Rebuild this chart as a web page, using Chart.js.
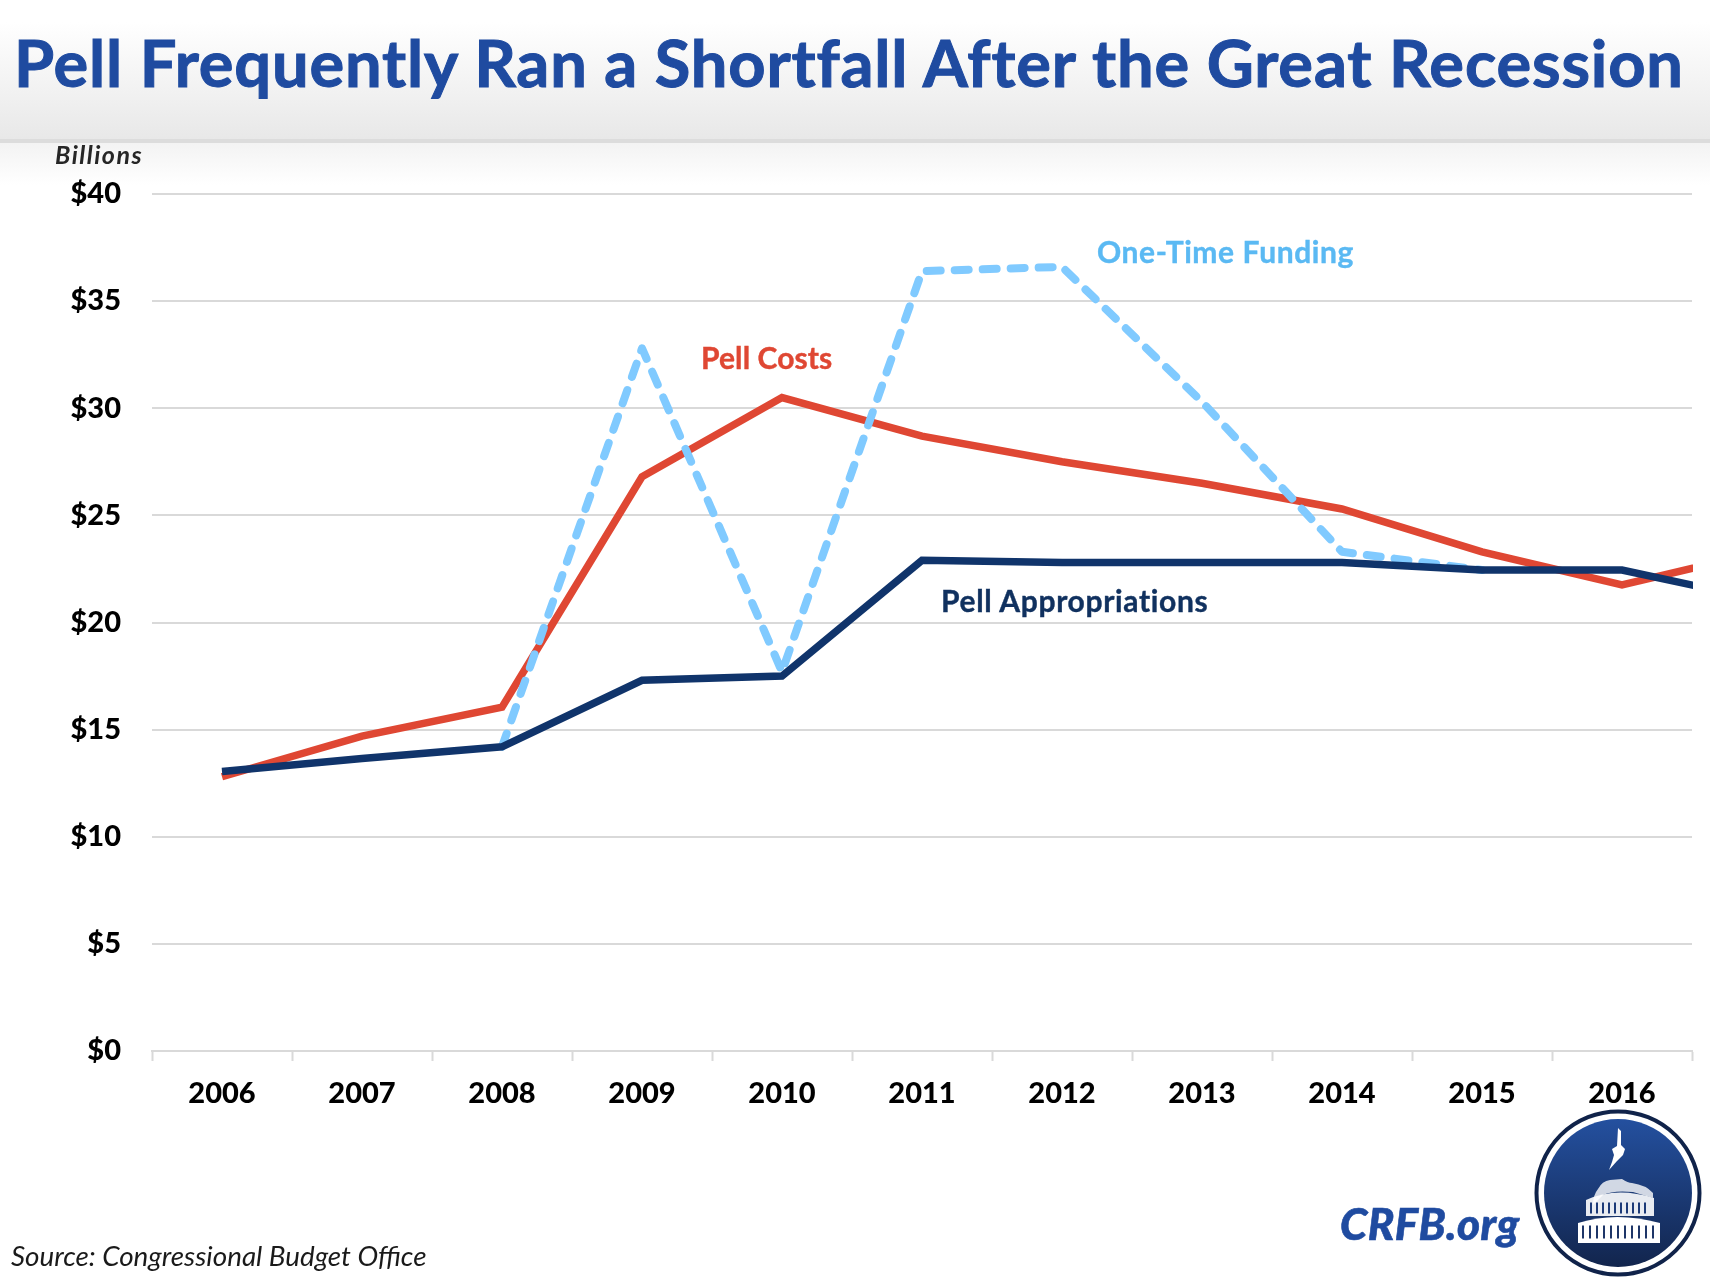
<!DOCTYPE html>
<html>
<head>
<meta charset="utf-8">
<title>Pell Frequently Ran a Shortfall After the Great Recession</title>
<script src="https://cdn.jsdelivr.net/npm/chart.js@4"></script>
<style>
  html, body { margin: 0; padding: 0; background: #fff; }
  #page { position: relative; width: 1710px; height: 1282px; overflow: hidden; font-family: Lato, sans-serif; }
  #header { position: absolute; left: 0; top: 0; width: 1710px; height: 190px;
    background: linear-gradient(to bottom, #fff 0, #fff 22px, #e8e8e8 139px, #dcdcdc 139px, #dcdcdc 143px, #f3f3f3 143px, #fff 185px); }
  canvas { position: absolute; left: 0; top: 0; }
  .txt { position: absolute; white-space: nowrap; line-height: 1; transform-origin: left center; }
  #title { left: 14px; top: 30px; font-size: 65px; font-weight: 700; color: #1f4ba0; letter-spacing: 0.83px; -webkit-text-stroke: 1px #1f4ba0; }
  #billions { left: 55px; top: 142px; font-size: 25px; font-weight: 700; font-style: italic; color: #262626; letter-spacing: 1.5px; }
  #source { left: 11px; top: 1242px; font-size: 27.8px; font-style: italic; color: #1a1a1a; }
  #crfb { left: 1340px; top: 1201px; font-size: 44px; font-weight: 900; font-style: italic; color: #1f4ba0; letter-spacing: 0.4px; -webkit-text-stroke: 0.6px #1f4ba0; }
  .lbl { font-size: 30px; font-weight: 700; -webkit-text-stroke: 0.4px currentColor; }
  #lblCosts { left: 701px; top: 342px; color: #df4733; letter-spacing: 0.1px; }
  #lblOneTime { left: 1097px; top: 236px; color: #5ab9f3; letter-spacing: 0.6px; }
  #lblApprop { left: 941px; top: 585px; color: #10315f; letter-spacing: 0.65px; }
  #logo { position: absolute; left: 0; top: 0; }
</style>
</head>
<body>
<div id="page">
  <div id="header"></div>
  <canvas id="pellChart" width="1710" height="1282"></canvas>
  <div class="txt" id="title">Pell Frequently Ran a Shortfall After the Great Recession</div>
  <div class="txt" id="billions">Billions</div>
  <div class="txt lbl" id="lblCosts">Pell Costs</div>
  <div class="txt lbl" id="lblOneTime">One-Time Funding</div>
  <div class="txt lbl" id="lblApprop">Pell Appropriations</div>
  <div class="txt" id="source">Source: Congressional Budget Office</div>
  <div class="txt" id="crfb">CRFB.org</div>
  <svg id="logo" width="1710" height="1282" viewBox="0 0 1710 1282">
    <defs>
      <linearGradient id="seal" x1="0" y1="0" x2="0" y2="1">
        <stop offset="0" stop-color="#24509f"/>
        <stop offset="1" stop-color="#12254d"/>
      </linearGradient>
    </defs>
    <circle cx="1618" cy="1193" r="81.5" fill="#fff" stroke="#10234a" stroke-width="4"/>
    <circle cx="1618" cy="1193" r="74" fill="url(#seal)"/>
    <!-- statue -->
    <path d="M1618 1128 l3 3 l0 14 l4 4 l-2 6 l-6 6 l-8 9 l3 -8 l2 -7 l-2 -6 l5 -3 z" fill="#fff"/>
    <!-- dome -->
    <path d="M1593 1205 q0 -10 5 -16 q4 -8 12 -9 l12 -1 q6 4 10 4 q14 2 21 10 l0 5 l-20 -6 q-20 -2 -30 3 z" fill="#fff" opacity="0.8"/>
    <path d="M1586 1216 v-16 q30 -14 68 -2 l0 18 z" fill="#fff" opacity="0.9"/>
    <path d="M1590 1208 h60" stroke="#1c3a78" stroke-width="11" stroke-dasharray="2 4"/>
    <!-- base -->
    <path d="M1578 1243 v-20 q38 -12 82 0 v20 z" fill="#fff"/>
    <path d="M1582 1232 h74" stroke="#1e3668" stroke-width="13" stroke-dasharray="2 5"/>
  </svg>
</div>
<script>
const years = ["2006", "2007", "2008", "2009", "2010", "2011", "2012", "2013", "2014", "2015", "2016", "2017"];
const pellAppropriations = [13.05, 13.65, 14.2, 17.3, 17.5, 22.9, 22.8, 22.8, 22.8, 22.45, 22.45, 21.05];
const pellCosts = [12.8, 14.7, 16.05, 26.8, 30.5, 28.7, 27.5, 26.5, 25.3, 23.3, 21.75, 23.3];
const oneTimeFunding = [null, null, 14.2, 32.8, 17.7, 36.4, 36.6, 30.3, 23.3, 22.45, null, null];

const gridColor = "#d9d9d9";
const tickFont = { family: "Lato", size: 29, weight: "900" };

const ctx = document.getElementById("pellChart").getContext("2d");

new Chart(ctx, {
  type: "line",
  data: {
    labels: years,
    datasets: [
      // first dataset is painted last, so it sits on top
      {
        label: "Pell Appropriations",
        data: pellAppropriations,
        borderColor: "#10346b",
        borderWidth: 7.5,
        pointRadius: 0,
        tension: 0,
        clip: 1,
      },
      {
        label: "One-Time Funding",
        data: oneTimeFunding,
        borderColor: "#80caff",
        borderWidth: 8,
        borderDash: [14, 14],
        borderCapStyle: "round",
        borderJoinStyle: "round",
        pointRadius: 0,
        tension: 0,
        clip: 1,
      },
      {
        label: "Pell Costs",
        data: pellCosts,
        borderColor: "#df4733",
        borderWidth: 7.5,
        pointRadius: 0,
        tension: 0,
        clip: 1,
      },
    ],
  },
  options: {
    responsive: false,
    devicePixelRatio: 1,
    animation: false,
    layout: { padding: { left: 0, right: 18, top: 194, bottom: 0 } },
    plugins: { legend: { display: false }, title: { display: false }, tooltip: { enabled: false } },
    scales: {
      x: {
        type: "category",
        offset: true,
        grid: {
          display: true,
          offset: true,
          drawOnChartArea: false,
          drawTicks: true,
          tickLength: 10,
          tickWidth: 2,
          tickColor: gridColor,
        },
        border: { display: true, color: gridColor, width: 2 },
        ticks: {
          color: "#000",
          font: tickFont,
          padding: 15,
          maxRotation: 0,
          autoSkip: false,
        },
        // the 2017 point stays in the data so the lines run off the right edge
        afterDataLimits: function (scale) {
          scale.max = years.indexOf("2016");
        },
        afterFit: function (scale) {
          scale.height = 231;
        },
      },
      y: {
        min: 0,
        max: 40,
        grid: { color: gridColor, lineWidth: 2, drawTicks: false },
        border: { display: false },
        ticks: {
          stepSize: 5,
          color: "#000",
          font: tickFont,
          padding: 31,
          callback: function (value) {
            return "$" + value;
          },
        },
        afterFit: function (scale) {
          scale.width = 152;
        },
      },
    },
  },
});
</script>
</body>
</html>
